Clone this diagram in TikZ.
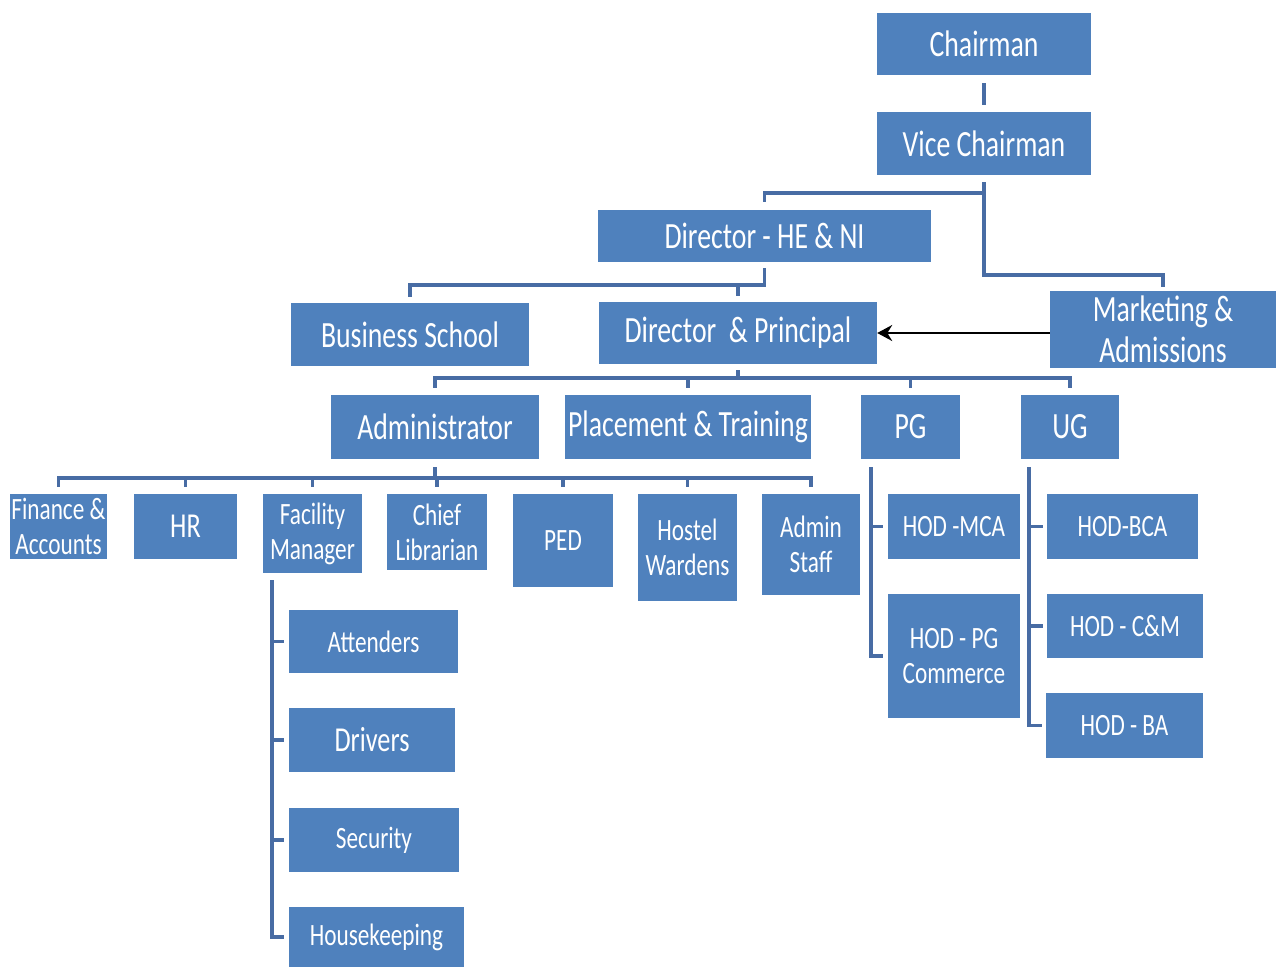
\documentclass[tikz,border=0pt]{standalone}
\usepackage{fontspec}
\setmainfont{Carlito}[FakeStretch=0.75]
\usetikzlibrary{calc,arrows.meta}
\definecolor{boxblue}{RGB}{79,129,189}
\definecolor{lineblue}{RGB}{72,108,164}
\begin{document}
\begin{tikzpicture}[x=1pt,y=-1pt,
  box/.style={fill=boxblue, text=white, inner sep=0pt, align=center},
  big/.style={font=\fontsize{37}{41}\selectfont},
  mid/.style={font=\fontsize{35}{38}\selectfont},
  small/.style={font=\fontsize{31}{35}\selectfont},
  conn/.style={draw=lineblue, line width=3.5pt},
  arr/.style={-{Stealth[length=15pt,width=16pt]}, line width=2pt, black}]
\fill[white] (0,0) rectangle (1276,967);
\useasboundingbox (0,0) rectangle (1276,967);
% top levels
\node[box,big,minimum width=214,minimum height=62] (chair) at (984,44) {Chairman};
\node[box,big,minimum width=214,minimum height=63] (vice) at (984,143.5) {Vice Chairman};
\node[box,big,minimum width=333,minimum height=52] (dirhe) at (764.5,236) {Director - HE \& NI};
\node[box,big,minimum width=238,minimum height=63] (bs) at (410,334.5) {Business School};
\node[box,big,minimum width=278,minimum height=62] (dp) at (738,333) {Director\ \ \& Principal};
\node[box,big,minimum width=226,minimum height=77] (mkt) at (1163,329.5) {Marketing \&\\Admissions};
\node[box,big,minimum width=208,minimum height=64] (admin) at (435,427) {Administrator};
\node[box,big,minimum width=246,minimum height=64] (place) at (688,427) {Placement \& Training};
\node[box,big,minimum width=99,minimum height=64] (pg) at (910.5,427) {PG};
\node[box,big,minimum width=98,minimum height=64] (ug) at (1070,427) {UG};
% admin row
\node[box,small,minimum width=97,minimum height=65] (fin) at (58.5,526.5) {Finance \&\\Accounts};
\node[box,mid,minimum width=103,minimum height=65] (hr) at (185.5,526.5) {HR};
\node[box,small,minimum width=99,minimum height=79] (fac) at (312.5,533.5) {Facility\\Manager};
\node[box,small,minimum width=100,minimum height=76] (lib) at (437,532) {Chief\\Librarian};
\node[box,small,minimum width=100,minimum height=93] (ped) at (563,540.5) {PED};
\node[box,small,minimum width=99,minimum height=107] (hostel) at (687.5,547.5) {Hostel\\Wardens};
\node[box,small,minimum width=98,minimum height=101] (astaff) at (811,544.5) {Admin\\Staff};
% facility children
\node[box,small,minimum width=169,minimum height=63] (attend) at (373.5,641.5) {Attenders};
\node[box,mid,minimum width=166,minimum height=64] (drivers) at (372,740) {Drivers};
\node[box,small,minimum width=170,minimum height=64] (security) at (374,840) {Security};
\node[box,small,minimum width=175,minimum height=60] (house) at (376.5,937) {Housekeeping};
% PG / UG children
\node[box,small,minimum width=132,minimum height=65] (hodmca) at (954,526.5) {HOD -MCA};
\node[box,small,minimum width=132,minimum height=124] (hodpg) at (954,656) {HOD - PG\\Commerce};
\node[box,small,minimum width=151,minimum height=65] (hodbca) at (1122.5,526.5) {HOD-BCA};
\node[box,small,minimum width=156,minimum height=64] (hodcm) at (1125,626) {HOD - C\&M};
\node[box,small,minimum width=157,minimum height=65] (hodba) at (1124.5,725.5) {HOD - BA};
% connectors
\draw[conn] ($(chair.south)+(0,8)$) -- ($(vice.north)+(0,-7)$);
\draw[conn] ($(vice.south)+(0,7)$) -- ($(vice.south)+(0,18)$) -| ($(dirhe.north)+(0,-8)$);
\draw[conn] ($(vice.south)+(0,7)$) |- ($(mkt.north)+(0,-16)$) -- ($(mkt.north)+(0,-4)$);
\draw[conn] ($(dirhe.south)+(0,6)$) |- ($(bs.north)+(0,-18)$) -- ($(bs.north)+(0,-6)$);
\draw[conn] ($(dp.north)+(0,-17)$) -- ($(dp.north)+(0,-6)$);
\draw[conn] ($(dp.south)+(0,6)$) -- ($(dp.south)+(0,14)$);
\draw[conn] ($(admin.north)+(0,-7)$) |- ($(ug.north)+(0,-17)$) -- ($(ug.north)+(0,-7)$);
\draw[conn] ($(place.north)+(0,-17)$) -- ($(place.north)+(0,-7)$);
\draw[conn] ($(pg.north)+(0,-17)$) -- ($(pg.north)+(0,-7)$);
\draw[conn] ($(admin.south)+(0,8)$) -- ($(admin.south)+(0,19)$);
\draw[conn] ($(fin.north)+(0,-7)$) |- ($(astaff.north)+(0,-16)$) -- ($(astaff.north)+(0,-7)$);
\foreach \n in {hr,fac,lib,ped,hostel}
  \draw[conn] ($(\n.north)+(0,-16)$) -- ($(\n.north)+(0,-7)$);
% facility manager branch
\coordinate (fv) at ($(fac.south west)+(9,7)$);
\draw[conn] (fv) |- ($(house.west)+(-5,0)$);
\foreach \n in {attend,drivers,security}
  \draw[conn] (fv |- \n.west) -- ($(\n.west)+(-5,0)$);
% PG branch
\coordinate (pv) at ($(pg.south west)+(10,8)$);
\draw[conn] (pv) |- ($(hodpg.west)+(-5,0)$);
\draw[conn] (pv |- hodmca.west) -- ($(hodmca.west)+(-5,0)$);
% UG branch
\coordinate (uv) at ($(ug.south west)+(8,8)$);
\draw[conn] (uv) |- ($(hodba.west)+(-4,0)$);
\foreach \n in {hodbca,hodcm}
  \draw[conn] (uv |- \n.west) -- ($(\n.west)+(-4,0)$);
% arrow
\draw[arr] (mkt.west |- dp.east) -- (dp.east);
\end{tikzpicture}
\end{document}
